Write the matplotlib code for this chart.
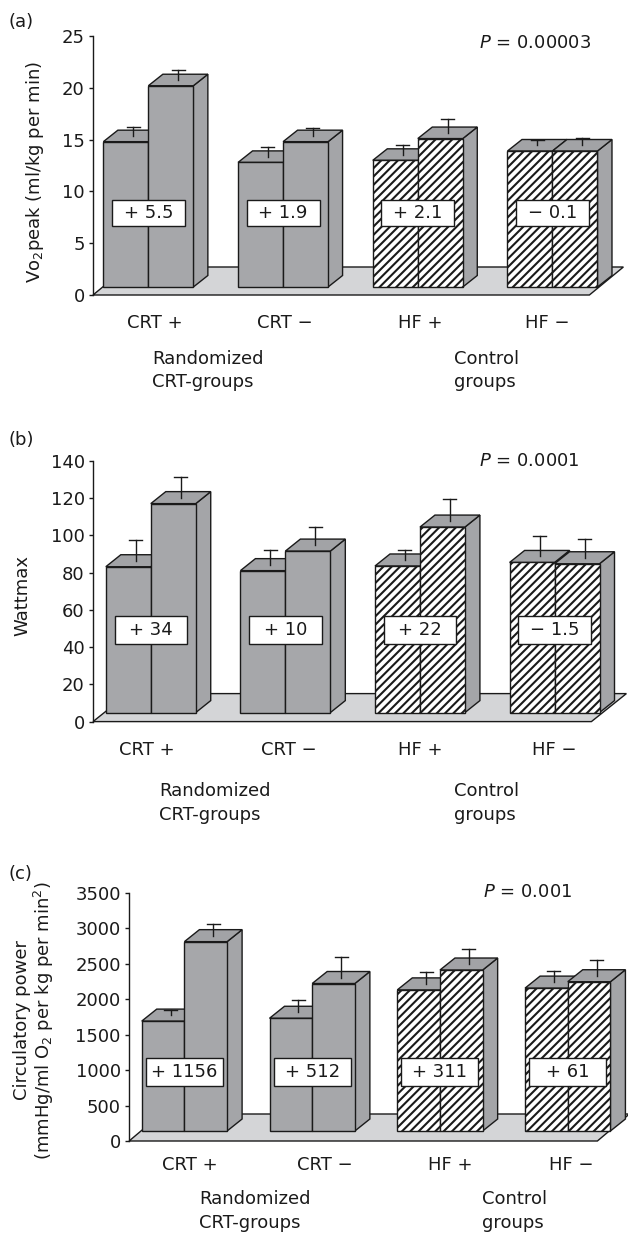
import matplotlib
matplotlib.use("Agg")
import matplotlib.pyplot as plt
from matplotlib.patches import Polygon, Rectangle

plt.rcParams['font.family'] = ['DejaVu Sans']
plt.rcParams['mathtext.fontset'] = 'dejavusans'
plt.rcParams['mathtext.default'] = 'regular'
plt.rcParams['hatch.linewidth'] = 1.5
plt.rcParams['hatch.color'] = 'black'

# ---------------- data ----------------
categories = ["CRT +", "CRT \u2212", "HF +", "HF \u2212"]
hatched = [False, False, True, True]
group_labels = ["Randomized\nCRT-groups", "Control\ngroups"]

vo2_before = [14.8, 12.8, 13.0, 13.9]
vo2_after = [20.2, 14.8, 15.1, 13.9]
vo2_err_before = [0.9, 0.9, 0.9, 0.5]
vo2_err_after = [1.0, 0.8, 1.3, 0.7]
vo2_change = ["+ 5.5", "+ 1.9", "+ 2.1", "\u2212 0.1"]
vo2_p = "0.00003"
vo2_ticks = [0, 5, 10, 15, 20, 25]

watt_before = [83.2, 81.1, 83.6, 85.5]
watt_after = [117.1, 91.6, 104.5, 84.8]
watt_err_before = [11.0, 7.9, 5.4, 11.2]
watt_err_after = [11.3, 9.9, 11.7, 10.3]
watt_change = ["+ 34", "+ 10", "+ 22", "\u2212 1.5"]
watt_p = "0.0001"
watt_ticks = [0, 20, 40, 60, 80, 100, 120, 140]

cp_before = [1690, 1730, 2130, 2155]
cp_after = [2810, 2220, 2410, 2245]
cp_err_before = [70, 170, 170, 155]
cp_err_after = [165, 290, 210, 220]
cp_change = ["+ 1156", "+ 512", "+ 311", "+ 61"]
cp_p = "0.001"
cp_ticks = [0, 500, 1000, 1500, 2000, 2500, 3000, 3500]

# ---------------- style / layout ----------------
W, H = 628, 1234
fig = plt.figure(figsize=(W / 100, H / 100), dpi=100)
FS = 13
BAR = '#a6a7aa'
TOP = '#a2a3a6'
SIDE = '#a4a5a8'
FLOOR = '#d4d5d7'
EDGE = '#1a1a1a'
BW = 0.334

def fx(px):
    return px / W

def fy(py):
    return 1 - py / H

panels = [
    dict(tag="(a)", tagy=22, before=vo2_before, after=vo2_after, eb=vo2_err_before,
         ea=vo2_err_after, change=vo2_change, p=vo2_p, ticks=vo2_ticks,
         left=93, right=589.4, y0=295, ytop=36, xlim=(-0.339, 3.346),
         floor=(34, 28), off=(9.7, 8), depth=(14.5, 11.5),
         boxw=73, boxh=26, boxy=213, px=479, py=43, caty=323,
         catx=[155, 285, 420, 547], gy=359, gx=[152, 454],
         ylabel=[(35, 172, r"Vo$_2$peak (ml/kg per min)")]),
    dict(tag="(b)", tagy=440, before=watt_before, after=watt_after, eb=watt_err_before,
         ea=watt_err_after, change=watt_change, p=watt_p, ticks=watt_ticks,
         left=93, right=591.4, y0=721.6, ytop=461, xlim=(-0.349, 3.354),
         floor=(35, 28), off=(10.8, 9), depth=(15, 12),
         boxw=72.5, boxh=28, boxy=630, px=479, py=461, caty=750,
         catx=[147, 289, 420, 554], gy=792, gx=[159, 454],
         ylabel=[(22, 595, "Wattmax")]),
    dict(tag="(c)", tagy=874, before=cp_before, after=cp_after, eb=cp_err_before,
         ea=cp_err_after, change=cp_change, p=cp_p, ticks=cp_ticks,
         left=129.1, right=597.4, y0=1141, ytop=892.7, xlim=(-0.339, 3.326),
         floor=(32, 27), off=(12, 10), depth=(15, 12),
         boxw=77, boxh=28, boxy=1071.7, px=483, py=892, caty=1165,
         catx=[190, 325, 450, 571], gy=1200, gx=[199, 482],
         ylabel=[(22, 1020, "Circulatory power"),
                 (44, 1021, r"(mmHg/ml O$_2$ per kg per min$^2$)")]),
]

for pn in panels:
    wpx = pn['right'] - pn['left']
    hpx = pn['y0'] - pn['ytop']
    ymax = pn['ticks'][-1]
    ax = fig.add_axes([fx(pn['left']), fy(pn['y0']), wpx / W, hpx / H])
    xl, xr = pn['xlim']
    ax.set_xlim(xl, xr)
    ax.set_ylim(0, ymax)
    sx = wpx / (xr - xl)
    sy = hpx / ymax

    def P(x, y, dxp=0.0, dyp=0.0):
        return (x + dxp / sx, y + dyp / sy)

    for s in ['top', 'right', 'bottom']:
        ax.spines[s].set_visible(False)
    ax.spines['left'].set_linewidth(1.0)
    ax.spines['left'].set_color(EDGE)
    ax.set_xticks([])
    ax.set_yticks(pn['ticks'])
    ax.tick_params(axis='y', direction='out', length=3, width=1, pad=3,
                   labelsize=FS, colors=EDGE)
    ax.patch.set_visible(False)

    fdx, fdy = pn['floor']
    floor = Polygon([P(xl, 0), P(xr, 0), P(xr, 0, fdx, fdy), P(xl, 0, fdx, fdy)],
                    closed=True, facecolor=FLOOR, edgecolor=EDGE, lw=1.0,
                    clip_on=False, zorder=1)
    ax.add_patch(floor)

    ox, oy = pn['off']
    dx, dy = pn['depth']
    z = 2
    for i in range(len(categories)):
        for k, (vals, errs) in enumerate([(pn['before'], pn['eb']), (pn['after'], pn['ea'])]):
            v = vals[i]
            e = errs[i]
            x0 = i - BW + k * BW
            x1 = x0 + BW
            front = Polygon([P(x0, 0, ox, oy), P(x1, 0, ox, oy), P(x1, v, ox, 0), P(x0, v, ox, 0)],
                            closed=True, facecolor='white' if hatched[i] else BAR,
                            edgecolor=EDGE, lw=1.0, hatch='////' if hatched[i] else None,
                            clip_on=False, zorder=z)
            top = Polygon([P(x0, v, ox, 0), P(x1, v, ox, 0), P(x1, v, ox + dx, dy), P(x0, v, ox + dx, dy)],
                          closed=True, facecolor=TOP, edgecolor=EDGE, lw=1.0,
                          clip_on=False, zorder=z)
            side = Polygon([P(x1, 0, ox, oy), P(x1, 0, ox + dx, oy + dy), P(x1, v, ox + dx, dy), P(x1, v, ox, 0)],
                           closed=True, facecolor=SIDE, edgecolor=EDGE, lw=1.0,
                           clip_on=False, zorder=z)
            for patch in (side, top, front):
                ax.add_patch(patch)
            xc = (x0 + x1) / 2
            a = P(xc, v, ox + dx / 2, dy / 2)
            b = P(xc, v + e, ox + dx / 2, dy / 2)
            c0 = P(xc, v + e, ox + dx / 2 - 6.5, dy / 2)
            c1 = P(xc, v + e, ox + dx / 2 + 6.5, dy / 2)
            ax.plot([a[0], b[0]], [a[1], b[1]], color=EDGE, lw=1.0, clip_on=False, zorder=z + 0.5)
            ax.plot([c0[0], c1[0]], [c0[1], c1[1]], color=EDGE, lw=1.0, clip_on=False, zorder=z + 0.5)
            z += 1
        # change box
        cx, _ = P(i, 0, ox, 0)
        cy = (pn['y0'] - pn['boxy']) / sy
        bw, bh = pn['boxw'] / sx, pn['boxh'] / sy
        ax.add_patch(Rectangle((cx - bw / 2, cy - bh / 2), bw, bh, facecolor='white',
                               edgecolor=EDGE, lw=1.0, clip_on=False, zorder=50))
        ax.text(cx, cy, pn['change'][i], ha='center', va='center', fontsize=FS,
                color=EDGE, zorder=51, clip_on=False)

    # texts
    fig.text(fx(9), fy(pn['tagy']), pn['tag'], ha='left', va='center', fontsize=FS, color=EDGE)
    fig.text(fx(pn['px']), fy(pn['py']), r"$\mathit{P}$ = " + pn['p'], ha='left', va='center',
             fontsize=FS, color=EDGE)
    for i, lab in enumerate(categories):
        fig.text(fx(pn['catx'][i]), fy(pn['caty']), lab, ha='center', va='center',
                 fontsize=FS, color=EDGE)
    for gx, gl in zip(pn['gx'], group_labels):
        fig.text(fx(gx), fy(pn['gy'] - 9.5), gl, ha='left', va='top', fontsize=FS,
                 color=EDGE, linespacing=1.4)
    for (lx, ly, lt) in pn['ylabel']:
        fig.text(fx(lx), fy(ly), lt, ha='center', va='center', rotation=90,
                 fontsize=FS, color=EDGE)

fig.savefig("out.png", dpi=100)
